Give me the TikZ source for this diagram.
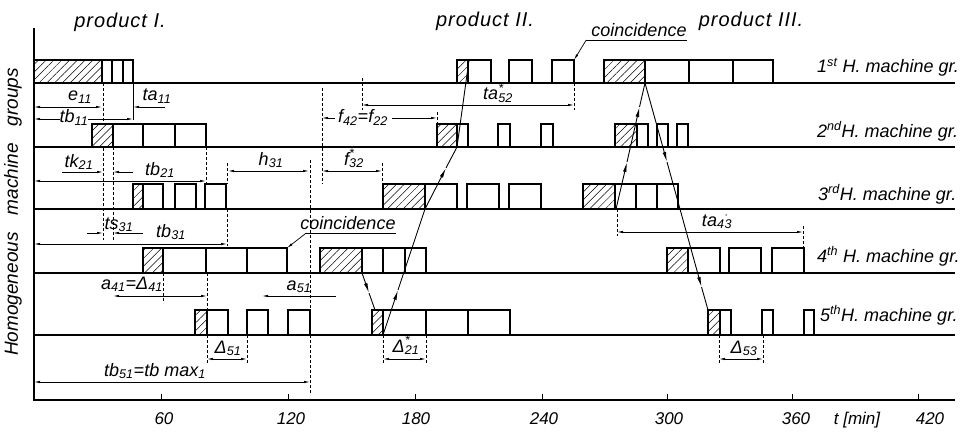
\documentclass[tikz,border=0pt]{standalone}
\usepackage{fontspec}
\setmainfont{Liberation Sans}
\usetikzlibrary{arrows.meta,patterns.meta}
\newcommand{\sbs}[1]{\textsubscript{#1}}
\newcommand{\sps}[2]{\makebox[0pt][l]{\raisebox{1.5pt}{\textsuperscript{#1}}}\textsubscript{#2}}
\tikzset{
  axisline/.style={line width=1.7pt},
  baseline/.style={line width=1.6pt},
  wbox/.style={draw, line width=1.9pt, fill=white},
  hbox/.style={draw, line width=1.9pt, fill=white, postaction={pattern={Lines[angle=45,distance=5.5pt,line width=0.5pt]}}},
  ext/.style={line width=0.5pt, densely dashed},
  dimline/.style={line width=0.7pt},
  >={Latex[length=6pt,width=2.4pt]},
  flow/.style={line width=0.9pt},
  ftip/.style={-{Latex[length=10pt,width=3.6pt]}},
  lbl/.style={font=\fontsize{18}{20}\selectfont\itshape, inner sep=0pt},
  rowlbl/.style={font=\fontsize{18}{20}\selectfont\itshape, inner sep=0pt, anchor=base west},
  numlbl/.style={font=\fontsize{17}{19}\selectfont\itshape, inner sep=0pt, anchor=base},
  prodlbl/.style={font=\fontsize{20}{22}\selectfont\itshape\addfontfeatures{LetterSpace=5}, inner sep=0pt, anchor=base},
}
\begin{document}
\begin{tikzpicture}[x=1pt,y=-1pt]
\useasboundingbox (0,0) rectangle (960,433);

% axes and row baselines
\draw[axisline] (34,28) -- (34,400) -- (955,400);
\foreach \y in {83,147,209,273,335} \draw[baseline] (34,\y) -- (955,\y);
\foreach \x in {161,288,415,542,667,792,918} \draw[line width=0.6pt] (\x,394) -- (\x,400);

% extension lines
\draw[ext] (103,83) -- (103,240);
\draw[ext] (113,147) -- (113,240);
\draw[line width=0.5pt] (133,83) -- (133,120);
\draw[ext] (206,147) -- (206,183);
\draw[ext] (227,163) -- (227,184);
\draw[ext] (227,209) -- (227,246);
\draw[ext] (310,160) -- (310,393);
\draw[ext] (322,88) -- (322,184);
\draw[ext] (362,78) -- (362,110);
\draw[ext] (382,163) -- (382,184);
\draw[ext] (437,112) -- (437,124);
\draw[ext] (574,83) -- (574,110);
\draw[ext] (617,209) -- (617,236);
\draw[ext] (803,226) -- (803,248);
\draw[ext] (163,273) -- (163,303);
\draw[ext] (207,273) -- (207,310);
\foreach \x in {207,247,383,426,719,763} \draw[ext] (\x,335) -- (\x,363);

% row 1
\foreach \a/\b in {34/102,457/468,604/645} \draw[hbox] (\a,83) rectangle (\b,60);
\foreach \a/\b in {102/112,112/123,123/133,468/491,509/532,552/574,645/689,689/733,733/773} \draw[wbox] (\a,83) rectangle (\b,60);
% row 2
\foreach \a/\b in {92/113,437/457,615/637} \draw[hbox] (\a,147) rectangle (\b,124);
\foreach \a/\b in {113/143,143/175,175/206,457/468,498/510,541/553,637/648,657/668,677/688} \draw[wbox] (\a,147) rectangle (\b,124);
% row 3
\foreach \a/\b in {133/143,383/425,583/615} \draw[hbox] (\a,209) rectangle (\b,184);
\foreach \a/\b in {143/163,175/196,205/226,425/457,467/499,509/541,615/636,636/657,657/678} \draw[wbox] (\a,209) rectangle (\b,184);
% row 4
\foreach \a/\b in {143/163,320/362,667/688} \draw[hbox] (\a,273) rectangle (\b,248);
\foreach \a/\b in {163/206,206/247,247/287,362/383,383/405,405/426,688/720,729/761,772/804} \draw[wbox] (\a,273) rectangle (\b,248);
% row 5
\foreach \a/\b in {195/207,372/383,708/720} \draw[hbox] (\a,335) rectangle (\b,310);
\foreach \a/\b in {207/228,247/268,288/310,383/426,426/468,468/510,720/731,762/773,804/814} \draw[wbox] (\a,335) rectangle (\b,310);

% dimension lines
\draw[dimline,<->] (34,107) -- (102,107);
\draw[dimline,<-] (133,107) -- (165,107);
\draw[dimline,<-] (34,119) -- (60,119);
\draw[dimline,->] (88,119) -- (133,119);
\draw[dimline,->] (62,172) -- (103,172);
\draw[dimline,->] (133,172) -- (113,172);
\draw[dimline,<->] (34,181) -- (206,181);
\draw[dimline,<->] (228,171) -- (309,171);
\draw[dimline,<-] (322,118) -- (335,118);
\draw[dimline,->] (392,118) -- (437,118);
\draw[dimline,<->] (362,105) -- (574,105);
\draw[dimline,<->] (322,171) -- (382,171);
\draw[dimline,->] (87,233) -- (103,233);
\draw[dimline,->] (143,233) -- (113,233);
\draw[dimline,<->] (34,244) -- (227,244);
\draw[dimline,<->] (617,232) -- (803,232);
\draw[dimline,<->] (113,296) -- (207,296);
\draw[dimline,<-] (262,296) -- (336,296);
\draw[dimline,<->] (207,359) -- (247,359);
\draw[dimline,<->] (383,359) -- (426,359);
\draw[dimline,<->] (719,359) -- (763,359);
\draw[dimline,<->] (34,382) -- (310,382);

% dimension labels
\node[lbl,anchor=base] (e11) at (80,101) {e\sbs{11}};
\node[lbl,anchor=base] (ta11) at (157,101) {ta\sbs{11}};
\node[lbl,anchor=base] (tb11) at (74,123) {tb\sbs{11}};
\node[lbl,anchor=base] (tk21) at (79,167) {tk\sbs{21}};
\node[lbl,anchor=base] (tb21) at (160,175) {tb\sbs{21}};
\node[lbl,anchor=base] (h31) at (271,165) {h\sbs{31}};
\node[lbl,anchor=base] (f42) at (363,123) {f\sbs{42}=f\sbs{22}};
\node[lbl,anchor=base] (ta52) at (498,100) {ta\sps{*}{52}};
\node[lbl,anchor=base] (f32) at (354,165) {f\sps{*}{32}};
\node[lbl,anchor=base] (ts31) at (119,229) {ts\sbs{31}};
\node[lbl,anchor=base] (tb31) at (171,237) {tb\sbs{31}};
\node[lbl,anchor=base] (ta43) at (717,226) {ta\sbs{4}\sps{$\cdot$}{3}};
\node[lbl,anchor=base] (a41) at (132,289) {a\sbs{41}=Δ\sbs{41}};
\node[lbl,anchor=base] (a51) at (299,290) {a\sbs{51}};
\node[lbl,anchor=base] (d51) at (228,353) {Δ\sbs{51}};
\node[lbl,anchor=base] (d21) at (406,352) {Δ\sps{*}{21}};
\node[lbl,anchor=base] (d53) at (744,353) {Δ\sbs{53}};
\node[lbl,anchor=base] (tb51) at (155,376) {tb\sbs{51}=tb max\sbs{1}};

% coincidence labels
\node[lbl,anchor=base] (co1) at (639,37) {coincidence};
\draw[line width=0.7pt] ([yshift=-3pt]co1.base east) -- ([xshift=-5pt,yshift=-3pt]co1.base west);
\draw[line width=0.7pt,->] ([xshift=-5pt,yshift=-3pt]co1.base west) -- (574,60);
\node[lbl,anchor=base] (co2) at (348,229) {coincidence};
\draw[line width=0.7pt] ([yshift=-4pt]co2.base east) -- ([xshift=6pt,yshift=-4pt]co2.base west);
\draw[line width=0.7pt,->] ([xshift=6pt,yshift=-4pt]co2.base west) -- (287,248);

% product labels
\node[prodlbl] (pI) at (120,28) {product I.};
\node[prodlbl] (pII) at (485,27) {product II.};
\node[prodlbl] (pIII) at (751,27) {product III.};

% row labels
\node[rowlbl] (r1) at (817,73) {1\textsuperscript{st} H. machine gr.};
\node[rowlbl] (r2) at (817,137) {2\textsuperscript{nd}H. machine gr.};
\node[rowlbl] (r3) at (818,200) {3\textsuperscript{rd}H. machine gr.};
\node[rowlbl] (r4) at (817,262) {4\textsuperscript{th} H. machine gr.};
\node[rowlbl] (r5) at (820,321) {5\textsuperscript{th}H. machine gr.};

% axis labels
\foreach \x/\t in {164/60,291/120,416/180,544/240,669/300,796/360,930/420}
  \node[numlbl] at (\x,424) {\t};
\node[numlbl] (tmin) at (857,424) {t [min]};
\node[font=\fontsize{19}{21}\selectfont\itshape, inner sep=0pt, rotate=90] (ylab) at (13,212) {Homogeneous\hspace{0.9em}machine\hspace{0.9em}groups};

% flow lines product II
\coordinate (a0) at (383,335);
\coordinate (am1) at (398,290);
\coordinate (a1) at (425,209);
\coordinate (am2) at (446,168);
\coordinate (a2) at (457,147);
\coordinate (a3) at (469,60);
\draw[flow,ftip] (a0) -- (am1);
\draw[flow,ftip] (am1) -- (a1) -- (am2);
\draw[flow] (am2) -- (a2) -- (a3);
\coordinate (b0) at (362,273);
\coordinate (bm) at (369,293);
\coordinate (b1) at (375,310);
\draw[flow,ftip] (b0) -- (bm);
\draw[flow] (bm) -- (b1);
% flow lines product III
\coordinate (c0) at (616,209);
\coordinate (cm1) at (627,162);
\coordinate (cm2) at (639.5,107);
\coordinate (c1) at (645,83);
\draw[flow,ftip] (c0) -- (cm1);
\draw[flow,ftip] (cm1) -- (cm2);
\draw[flow] (cm2) -- (c1);
\coordinate (dm1) at (667,162);
\coordinate (dm2) at (701.5,287);
\coordinate (d1) at (708,310);
\draw[flow,ftip] (c1) -- (dm1);
\draw[flow,ftip] (dm1) -- (dm2);
\draw[flow] (dm2) -- (d1);
\end{tikzpicture}
\end{document}
